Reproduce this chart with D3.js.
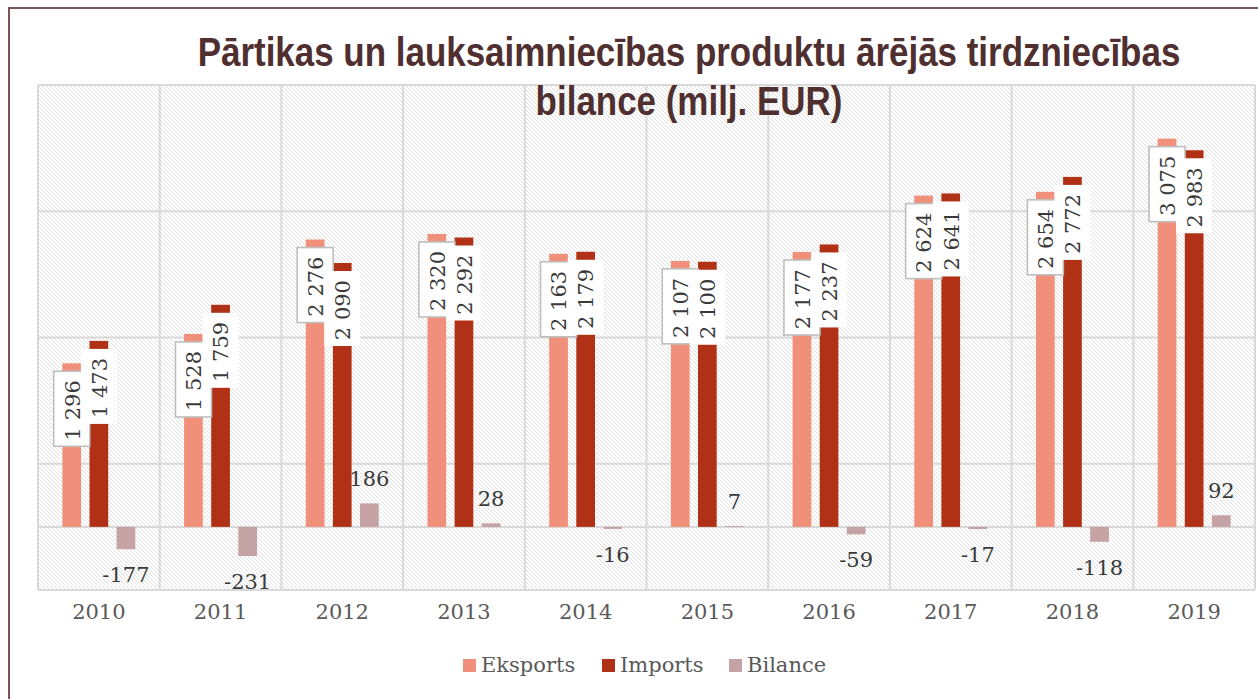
<!DOCTYPE html>
<html>
<head>
<meta charset="utf-8">
<script src="https://cdn.jsdelivr.net/npm/d3@7"></script>
<style>
  body { margin: 0; background: #fff; }
  svg { display: block; }
</style>
</head>
<body>
<svg id="chart" width="1258" height="699"></svg>
<script>
const years = ['2010', '2011', '2012', '2013', '2014', '2015', '2016', '2017', '2018', '2019'];
const eksports = [1296, 1528, 2276, 2320, 2163, 2107, 2177, 2624, 2654, 3075];
const imports = [1473, 1759, 2090, 2292, 2179, 2100, 2237, 2641, 2772, 2983];
const bilance = [-177, -231, 186, 28, -16, 7, -59, -17, -118, 92];
const seriesNames = ['Eksports', 'Imports', 'Bilance'];
const gridValues = [-500, 500, 1500, 2500, 3500];
const titleLines = ['Pārtikas un lauksaimniecības produktu ārējās tirdzniecības', 'bilance (milj. EUR)'];

const colors = { Eksports: '#f1907a', Imports: '#b13116', Bilance: '#c5a2a4' };
const serifFont = '"DejaVu Serif", serif';

const svg = d3.select('#chart');
const plot = { left: 38, right: 1255, top: 85, bottom: 590 };

const locale = d3.formatLocale({ decimal: ',', thousands: ' ', grouping: [3], currency: ['', ''], minus: '-' });
const fmt = locale.format(',d');

// hatched background pattern
const defs = svg.append('defs');
const pat = defs.append('pattern')
  .attr('id', 'hatch')
  .attr('patternUnits', 'userSpaceOnUse')
  .attr('width', 4).attr('height', 4);
pat.append('rect').attr('width', 4).attr('height', 4).attr('fill', '#fff');
pat.append('path')
  .attr('d', 'M-1,-1 L5,5 M3,-1 L5,1 M-1,3 L1,5')
  .attr('stroke', '#e0e0e0')
  .attr('stroke-width', 1);

// outer border
svg.append('rect')
  .attr('x', 9).attr('y', 8)
  .attr('width', 1400).attr('height', 900)
  .attr('fill', 'none')
  .attr('stroke', '#7b5353')
  .attr('stroke-width', 2);

const x = d3.scaleBand().domain(years).range([plot.left, plot.right]);
const xInner = d3.scaleBand().domain(seriesNames).range([0, x.bandwidth()])
  .paddingInner(0.31).paddingOuter(0.9);
const y = d3.scaleLinear().domain([-500, 3500]).range([plot.bottom, plot.top]);

svg.append('rect')
  .attr('x', plot.left).attr('y', plot.top)
  .attr('width', plot.right - plot.left).attr('height', plot.bottom - plot.top)
  .attr('fill', 'url(#hatch)');

const grid = svg.append('g').attr('stroke', '#d9d9d9').attr('stroke-width', 2);
grid.selectAll('line.h')
  .data(gridValues.concat([0]))
  .join('line')
  .attr('class', 'h')
  .attr('x1', plot.left).attr('x2', plot.right)
  .attr('y1', d => y(d)).attr('y2', d => y(d));
grid.selectAll('line.v')
  .data(years.map(d => x(d)).concat([plot.right]))
  .join('line')
  .attr('class', 'v')
  .attr('x1', d => d).attr('x2', d => d)
  .attr('y1', plot.top).attr('y2', plot.bottom);

const rows = years.map((yr, i) => ({ year: yr, Eksports: eksports[i], Imports: imports[i], Bilance: bilance[i] }));

// bars
seriesNames.forEach(name => {
  svg.append('g').selectAll('rect')
    .data(rows)
    .join('rect')
    .attr('x', d => x(d.year) + xInner(name))
    .attr('width', xInner.bandwidth())
    .attr('y', d => y(Math.max(0, d[name])))
    .attr('height', d => Math.abs(y(d[name]) - y(0)))
    .attr('fill', colors[name]);
});

// rotated labels in boxes for Eksports and Imports
const boxW = 36, boxH = 75;
['Eksports', 'Imports'].forEach(name => {
  const g = svg.append('g');
  const cx = d => x(d.year) + xInner(name) + xInner.bandwidth() / 2;
  g.selectAll('rect')
    .data(rows)
    .join('rect')
    .attr('x', d => cx(d) - boxW / 2)
    .attr('y', d => y(d[name]) + 8)
    .attr('width', boxW).attr('height', boxH)
    .attr('fill', '#fff')
    .attr('stroke', name === 'Eksports' ? '#bfbfbf' : 'none')
    .attr('stroke-width', 1.6);
  g.selectAll('text')
    .data(rows)
    .join('text')
    .attr('transform', d => `translate(${cx(d)},${y(d[name]) + 17}) rotate(-90)`)
    .attr('text-anchor', 'end')
    .attr('dy', '0.37em')
    .attr('font-family', serifFont)
    .attr('font-size', 21)
    .attr('fill', '#3a3a3a')
    .text(d => fmt(d[name]));
});

// Bilance labels
svg.append('g').selectAll('text')
  .data(rows)
  .join('text')
  .attr('x', d => x(d.year) + xInner('Bilance') + xInner.bandwidth() / 2)
  .attr('y', d => y(d.Bilance) + (d.Bilance < 0 ? 25 : -25))
  .attr('dy', '0.37em')
  .attr('text-anchor', 'middle')
  .attr('font-family', serifFont)
  .attr('font-size', 21)
  .attr('fill', '#3a3a3a')
  .text(d => fmt(d.Bilance));

// category axis
const xAxis = svg.append('g')
  .attr('transform', `translate(0,${plot.bottom})`)
  .call(d3.axisBottom(x).tickSize(0).tickPadding(14));
xAxis.select('.domain').remove();
xAxis.selectAll('text')
  .attr('font-family', serifFont)
  .attr('font-size', 21)
  .attr('fill', '#595959');

// title
const title = svg.append('g').attr('transform', 'translate(689,0) scale(0.874,1)');
title.selectAll('text')
  .data(titleLines)
  .join('text')
  .attr('x', 0)
  .attr('y', (d, i) => 66 + i * 49)
  .attr('text-anchor', 'middle')
  .attr('font-family', '"Liberation Sans", Arial, sans-serif')
  .attr('font-weight', 'bold')
  .attr('font-size', 40)
  .attr('fill', '#4f2f2f')
  .text(d => d);

// legend
const legendX = [463, 602, 729];
const legend = svg.append('g').selectAll('g')
  .data(seriesNames)
  .join('g')
  .attr('transform', (d, i) => `translate(${legendX[i]},659)`);
legend.append('rect')
  .attr('width', 13).attr('height', 13)
  .attr('fill', d => colors[d]);
legend.append('text')
  .attr('x', 18).attr('y', 13)
  .attr('font-family', serifFont)
  .attr('font-size', 21)
  .attr('fill', '#595959')
  .text(d => d);
</script>
</body>
</html>
